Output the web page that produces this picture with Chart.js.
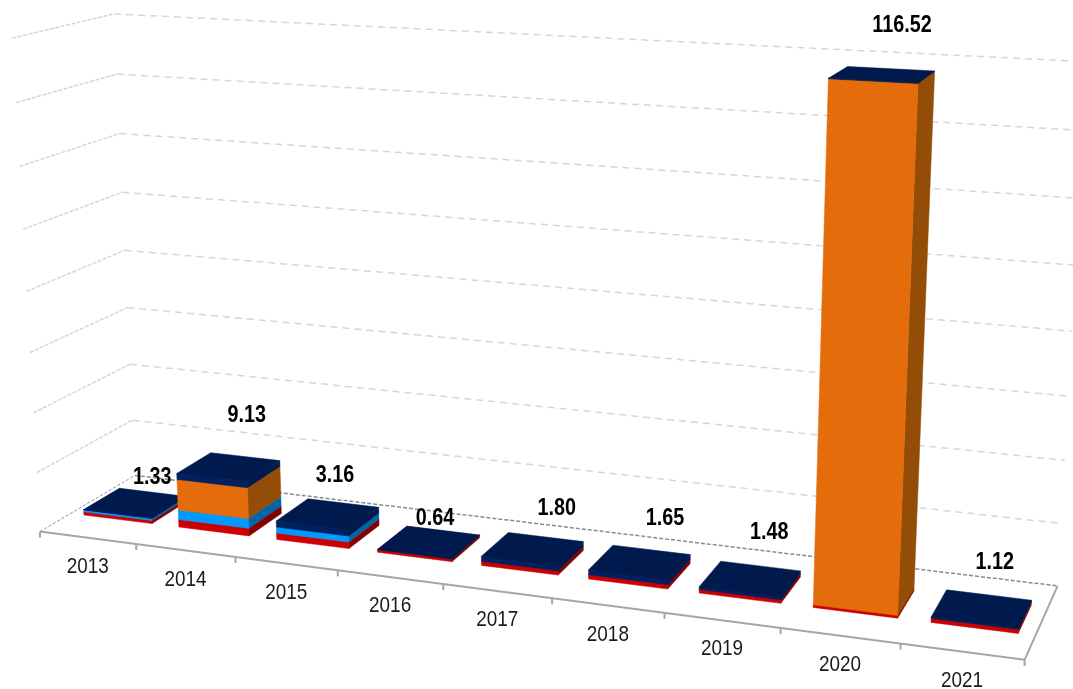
<!DOCTYPE html>
<html><head><meta charset="utf-8">
<style>html,body{margin:0;padding:0;background:#fff}canvas{display:block}</style>
<script src="https://cdn.jsdelivr.net/npm/chart.js@4"></script>
</head><body><canvas id="c" width="1073" height="689"></canvas>
<script>
const categories = ['2013','2014','2015','2016','2017','2018','2019','2020','2021'];
const totalLabels = ['1.33','9.13','3.16','0.64','1.80','1.65','1.48','116.52','1.12'];
const redValues    = [0.8,1.9,1.6,0.6,1.0,1.0,0.8,0.6,0.9];
const blueValues   = [0.5,2.4,1.5,0,0,0,0,0,0];
const orangeValues = [0,7.7,0,0,0,0,0,115.8,0];
const navyValues   = [0.1,1.5,1.5,0.1,1.2,1.2,0.7,0.12,0.35];

// nudges of each total label from the top of its bar (px)
const labelNudge = [[17,-25],[18,-51],[7,-38],[6,-23],[24,-40],[25,-43],[19,-46],[20,-49],[13,-46]];
const DEPTH_FRONT = 0.31, DEPTH_BACK = 0.69;

// camera: fitted from where the box corners sit in the picture [u,v,w,screenX,screenY]
const calibration = [
 [0,0,0,40,531],[1,0,0,1023,660],[0,0,1,133,475],[1,0,1,1058,586],
 [0,1,0,13,40],[0,1,1,115,14],[1,1,1,1085,65],
 [1/9,0,0,137,545],[4/9,0,0,444,585],[8/9,0,0,899,645],
 [0,.125,0,37,473],[0,.125,1,133,420],[1,.125,1,1062,524],[0,.875,0,15,104],
 [1,.25,1,1065,461],[1,.5,1,1071,333],[1,.75,1,1078,200],
 [0,.25,1,131,363],[0,.5,1,124,250],[0,.75,1,119,133],[0,.5,0,26,292],
 [.7933,0,.31,813,606],[.7933,.9875,.31,829,75],[.8711,0,.31,896,617],[.8711,.9875,.31,916,80],
 [.8711,.9875,.69,934,68],[.8711,0,.69,913,590],[.1267,0,.31,178,527],[.2044,0,.31,248,535]
];
function fitCamera(pts){
  const n=11, A=Array.from({length:n},()=>new Array(n+1).fill(0));
  const add=(r,b)=>{for(let i=0;i<n;i++){for(let j=0;j<n;j++)A[i][j]+=r[i]*r[j];A[i][n]+=r[i]*b;}};
  for(const [u,v,w,X,Y] of pts){
    add([u,v,w,1,0,0,0,0,-X*u,-X*v,-X*w],X);
    add([0,0,0,0,u,v,w,1,-Y*u,-Y*v,-Y*w],Y);
  }
  for(let i=0;i<n;i++){
    let p=i;for(let k=i+1;k<n;k++)if(Math.abs(A[k][i])>Math.abs(A[p][i]))p=k;
    [A[i],A[p]]=[A[p],A[i]];
    for(let k=0;k<n;k++){if(k===i)continue;const f=A[k][i]/A[i][i];for(let j=i;j<=n;j++)A[k][j]-=f*A[i][j];}
  }
  return A.map((r,i)=>r[n]/r[i]);
}
const P = fitCamera(calibration);
function proj(u,v,w){
  const d=P[8]*u+P[9]*v+P[10]*w+1;
  return [(P[0]*u+P[1]*v+P[2]*w+P[3])/d,(P[4]*u+P[5]*v+P[6]*w+P[7])/d];
}

const seriesStyle = {
  Red:{front:'#CC0000',side:'#850000',top:'#CC0000'},
  Blue:{front:'#0099FF',side:'#0066A6',top:'#0099FF'},
  Orange:{front:'#E46C0A',side:'#934D06',top:'#E46C0A'},
  Navy:{front:'#00205F',side:'#001A4E',top:'#001A4E'}
};

const box3d = {
  id:'box3d',
  beforeDatasetsDraw(chart){
    const {ctx,scales:{x,y}}=chart;
    const U=px=>(px-x.left)/x.width, V=py=>(y.bottom-py)/(y.bottom-y.top);
    const line=(a,b,color,width,dash)=>{
      ctx.save();ctx.strokeStyle=color;ctx.lineWidth=width;ctx.setLineDash(dash||[]);
      ctx.beginPath();ctx.moveTo(a[0],a[1]);ctx.lineTo(b[0],b[1]);ctx.stroke();ctx.restore();
    };
    const poly=(pts,color)=>{
      ctx.fillStyle=color;ctx.strokeStyle=color;ctx.lineWidth=.5;ctx.beginPath();
      pts.forEach((p,i)=>i?ctx.lineTo(p[0],p[1]):ctx.moveTo(p[0],p[1]));
      ctx.closePath();ctx.fill();ctx.stroke();
    };
    // walls
    y.ticks.forEach(t=>{
      if(t.value===0)return;
      const v=V(y.getPixelForValue(t.value));
      line(proj(0,v,0),proj(0,v,1),'#C6D9F1',1.5,[4,1.5]);
      line(proj(0,v,1),proj(1,v,1),'#C6D9F1',1.5,[7,5]);
    });
    // floor
    line(proj(0,0,0),proj(0,0,1),'#8C9096',1,[3,2]);
    line(proj(0,0,1),proj(1,0,1),'#868B94',1.5,[4,2]);
    line(proj(1,0,0),proj(1,0,1),'#A6A6A6',2);
    line(proj(0,0,0),proj(1,0,0),'#A6A6A6',2);
    // ticks on the front edge
    const step=x.getPixelForValue(1)-x.getPixelForValue(0);
    categories.forEach((c,i)=>{
      const p=x.getPixelForValue(i)-step/2;
      const a=proj(U(p),0,0);line(a,[a[0],a[1]+6],'#A6A6A6',2);
    });
    const a=proj(1,0,0);line(a,[a[0],a[1]+6],'#A6A6A6',2);
    // bars, left to right, bottom to top
    categories.forEach((c,i)=>{
      chart.data.datasets.forEach((ds,di)=>{
        const el=chart.getDatasetMeta(di).data[i];
        if(!ds.data[i])return;
        const st=seriesStyle[ds.label];
        const u0=U(el.x-el.width/2),u1=U(el.x+el.width/2),v0=V(el.base),v1=V(el.y);
        poly([proj(u1,v0,DEPTH_FRONT),proj(u1,v0,DEPTH_BACK),proj(u1,v1,DEPTH_BACK),proj(u1,v1,DEPTH_FRONT)],st.side);
        poly([proj(u0,v0,DEPTH_FRONT),proj(u1,v0,DEPTH_FRONT),proj(u1,v1,DEPTH_FRONT),proj(u0,v1,DEPTH_FRONT)],st.front);
        poly([proj(u0,v1,DEPTH_FRONT),proj(u1,v1,DEPTH_FRONT),proj(u1,v1,DEPTH_BACK),proj(u0,v1,DEPTH_BACK)],st.top);
      });
    });
    // text
    ctx.textAlign='center';ctx.textBaseline='middle';
    const put=(s,px,py)=>ctx.fillText(s,px,py,ctx.measureText(s).width*.86);
    categories.forEach((c,i)=>{
      const p=proj(U(x.getPixelForValue(i)),0,0);
      ctx.fillStyle='#1a1a1a';ctx.font='22px "Liberation Sans",sans-serif';
      put(c,p[0],p[1]+29);
    });
    const last=chart.data.datasets.length;
    categories.forEach((c,i)=>{
      let top=null;
      for(let d=last-1;d>=0&&top===null;d--){if(chart.data.datasets[d].data[i])top=chart.getDatasetMeta(d).data[i].y;}
      const p=proj(U(x.getPixelForValue(i)),V(top),(DEPTH_FRONT+DEPTH_BACK)/2);
      ctx.fillStyle='#000';ctx.font='bold 23px "Liberation Sans",sans-serif';
      put(totalLabels[i],p[0]+labelNudge[i][0],p[1]+labelNudge[i][1]);
    });
    return false;
  }
};

new Chart(document.getElementById('c'),{
  type:'bar',
  data:{labels:categories,datasets:[
    {label:'Red',data:redValues,backgroundColor:'#CC0000'},
    {label:'Blue',data:blueValues,backgroundColor:'#0099FF'},
    {label:'Orange',data:orangeValues,backgroundColor:'#E46C0A'},
    {label:'Navy',data:navyValues,backgroundColor:'#00205F'}
  ]},
  options:{
    responsive:false,animation:false,
    datasets:{bar:{categoryPercentage:.72,barPercentage:1}},
    layout:{padding:0},
    plugins:{legend:{display:false},tooltip:{enabled:false}},
    scales:{
      x:{stacked:true,display:false,offset:true},
      y:{stacked:true,display:false,min:0,max:118,ticks:{stepSize:14.75}}
    }
  },
  plugins:[box3d]
});
</script></body></html>
